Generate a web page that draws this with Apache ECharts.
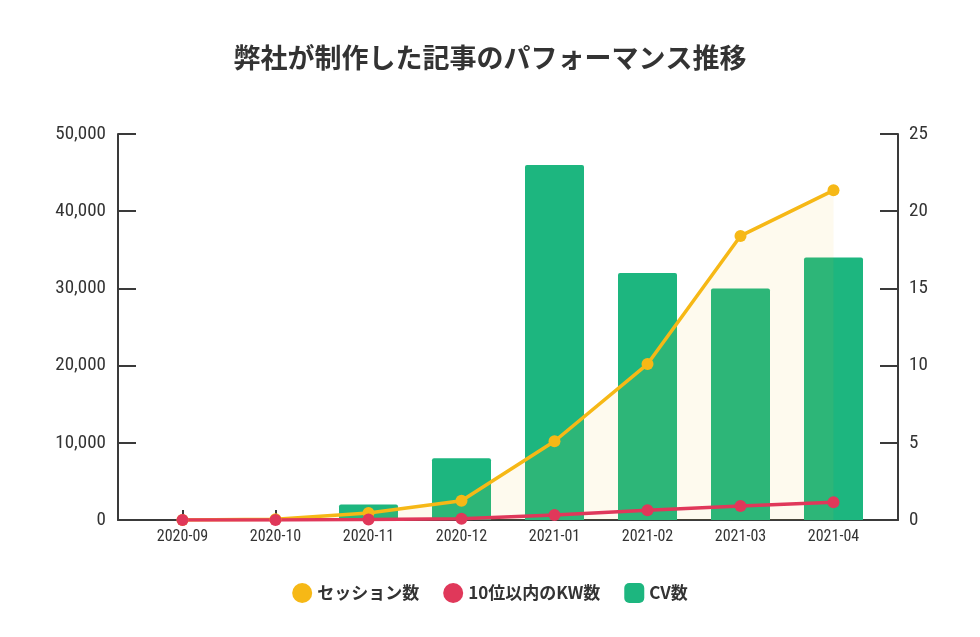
<!DOCTYPE html>
<html><head><meta charset="utf-8">
<script src="https://cdn.jsdelivr.net/npm/echarts@6/dist/echarts.min.js"></script>
<style>html,body{margin:0;padding:0;background:#fff}#c{width:980px;height:637px}</style>
</head><body><div id="c"></div>
<script>
var categories = ['2020-09','2020-10','2020-11','2020-12','2021-01','2021-02','2021-03','2021-04'];
var sessions = [0, 100, 900, 2500, 10200, 20200, 36800, 42700];
var keywords = [0, 0, 50, 150, 650, 1250, 1800, 2300];
var cv = [0, 0, 1, 4, 23, 16, 15, 17];
var leftTicks = {min: 0, max: 50000, interval: 10000};
var rightTicks = {min: 0, max: 25, interval: 5};

var axisColor = '#3a3a3a';
var textColor = '#333333';
var numFont = '"Roboto Condensed","Liberation Sans Narrow","Noto Sans",sans-serif';
var cjkFont = '"Noto Sans CJK JP",sans-serif';

var chart = echarts.init(document.getElementById('c'));
chart.setOption({
  backgroundColor: '#ffffff',
  animation: false,
  title: {
    text: '弊社が制作した記事のパフォーマンス推移',
    left: 'center', top: 39,
    textStyle: {fontFamily: cjkFont, fontSize: 27, fontWeight: 'bold', color: textColor}
  },
  legend: {
    top: 578, left: 'center',
    itemWidth: 20, itemHeight: 20, itemGap: 24,
    textStyle: {fontFamily: cjkFont, fontSize: 17, fontWeight: 'bold', color: textColor},
    data: [
      {name: 'セッション数', icon: 'circle'},
      {name: '10位以内のKW数', icon: 'circle'},
      {name: 'CV数', icon: 'roundRect'}
    ]
  },
  grid: [
    {left: 136, right: 100, top: 134, bottom: 117},
    {left: 118, right: 82, top: 134, bottom: 117}
  ],
  xAxis: [
    {
      type: 'category', gridIndex: 0, data: categories, boundaryGap: true,
      axisLine: {show: true, lineStyle: {color: axisColor, width: 2}},
      axisTick: {show: true, inside: true, length: 10, alignWithLabel: true, lineStyle: {color: axisColor, width: 2}},
      axisLabel: {fontFamily: numFont, fontSize: 16, color: textColor, margin: 9}
    },
    {
      type: 'value', gridIndex: 1, min: 0, max: 1,
      axisLine: {show: true, lineStyle: {color: axisColor, width: 2}},
      axisTick: {show: false}, axisLabel: {show: false}, splitLine: {show: false}
    }
  ],
  yAxis: [
    {
      type: 'value', gridIndex: 0, position: 'left', offset: 18,
      min: leftTicks.min, max: leftTicks.max, interval: leftTicks.interval,
      axisLine: {show: true, lineStyle: {color: axisColor, width: 2}},
      axisTick: {show: true, inside: true, length: 18, lineStyle: {color: axisColor, width: 2}},
      splitLine: {show: false},
      axisLabel: {fontFamily: numFont, fontSize: 19, color: textColor, margin: 12,
        formatter: function (v) { return v.toLocaleString('en-US'); }}
    },
    {
      type: 'value', gridIndex: 0, position: 'right', offset: 18,
      min: rightTicks.min, max: rightTicks.max, interval: rightTicks.interval,
      axisLine: {show: true, lineStyle: {color: axisColor, width: 2}},
      axisTick: {show: true, inside: true, length: 18, lineStyle: {color: axisColor, width: 2}},
      splitLine: {show: false},
      axisLabel: {fontFamily: numFont, fontSize: 19, color: textColor, margin: 11}
    },
    {
      type: 'value', gridIndex: 1, min: 0, max: 1, show: false
    }
  ],
  series: [
    {
      name: 'CV数', type: 'bar', xAxisIndex: 0, yAxisIndex: 1, data: cv,
      barWidth: 59,
      itemStyle: {color: '#1db67f', borderRadius: [2, 2, 0, 0]}
    },
    {
      name: 'セッション数', type: 'line', xAxisIndex: 0, yAxisIndex: 0, data: sessions,
      symbol: 'circle', symbolSize: 12,
      lineStyle: {color: '#f6b816', width: 3.5},
      itemStyle: {color: '#f6b816'},
      areaStyle: {color: 'rgba(246,190,40,0.11)'}
    },
    {
      name: '10位以内のKW数', type: 'line', xAxisIndex: 0, yAxisIndex: 0, data: keywords,
      symbol: 'circle', symbolSize: 12,
      lineStyle: {color: '#e0385a', width: 3.5},
      itemStyle: {color: '#e0385a'}
    }
  ]
});
</script></body></html>
